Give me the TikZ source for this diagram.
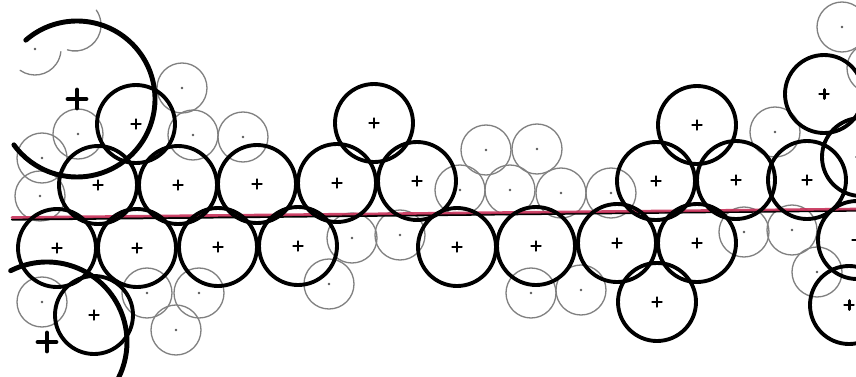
\documentclass[tikz,border=0pt]{standalone}
\usepackage{tikz}
\definecolor{axisred}{HTML}{C8325A}
\begin{document}
\begin{tikzpicture}[x=0.02cm, y=0.02cm, line cap=round]
  % Styles
  \tikzset{
    ring/.style={draw=black, line width=2.2pt},
    bigring/.style={draw=black, line width=2.8pt},
    faintring/.style={draw=black!50, line width=0.75pt},
    crossmark/.style={draw=black, line width=1.7pt},
    bigcross/.style={draw=black, line width=2.8pt},
    centerdot/.style={fill=black!65},
    axisline/.style={draw=black, line width=1.3pt},
    redline/.style={draw=axisred, line width=1.5pt, opacity=0.9}
  }
  \useasboundingbox (0,-376) rectangle (856,0);
  \clip (0,-376) rectangle (856,0);

  % Faint circles
  \foreach \x/\y in {42/158, 40/196, 78/134, 182/88, 193/135, 243/137,
                     42/302, 147/293, 199/293, 176/330, 352/238, 400/235, 329/284,
                     486/150, 537/149, 460/190, 510/190, 561/193, 611/193,
                     531/293, 581/290, 842/27, 775/132, 744/232, 792/230, 817/272, 872/68}{
    \draw[faintring] (\x,-\y) circle[radius=25];
    \fill[centerdot] (\x,-\y) circle[radius=1.3];
  }
  % half hidden ones at the top left
  \draw[faintring] (35,-49) ++(-125:26) arc[start angle=-125, end angle=-6, radius=26];
  \fill[centerdot] (35,-49) circle[radius=1.3];
  \draw[faintring] (75,-25) ++(-107:26) arc[start angle=-107, end angle=35, radius=26];

  % Axis
  \draw[axisline] (12,-219.5) -- (856,-210.5);
  \draw[redline] (12,-217.5) -- (856,-209);

  % Thick circles
  \foreach \x/\y in {98/185, 178/185, 257/184, 337/183, 417/181, 374/123,
                     57/248, 137/248, 218/247, 298/246, 457/247, 536/246, 617/243, 697/243,
                     136/124, 94/315, 656/181, 736/180, 807/180, 697/125, 657/302,
                     824/94, 861/157, 857/240, 849/305}{
    \draw[ring] (\x,-\y) circle[radius=39];
    \draw[crossmark] (\x-4.5,-\y) -- (\x+4.5,-\y) (\x,-\y-4.5) -- (\x,-\y+4.5);
  }

  % Large arcs
  \draw[bigring] (77,-99) ++(131:78) arc[start angle=131, end angle=-144, radius=78];
  \draw[bigcross] (68,-99) -- (86,-99) (77,-90) -- (77,-108);
  \draw[bigring] (47,-342) ++(117:80) arc[start angle=117, end angle=-35, radius=80];
  \draw[bigcross] (38,-342) -- (56,-342) (47,-333) -- (47,-351);
\end{tikzpicture}
\end{document}
